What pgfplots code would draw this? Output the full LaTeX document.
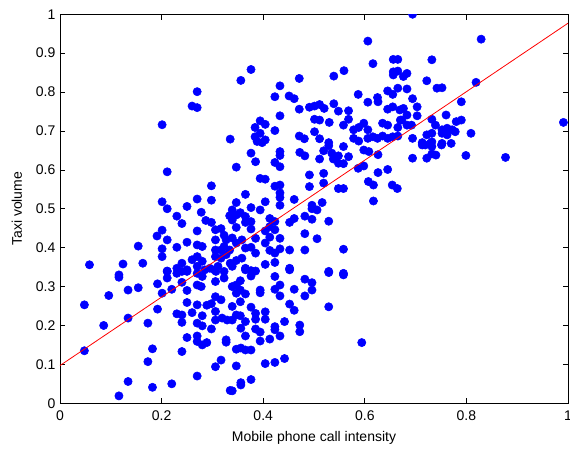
\documentclass[border=0pt]{standalone}
\usepackage{fontspec}
\setmainfont{Liberation Sans}
\usepackage{pgfplots}
\pgfplotsset{compat=1.18}
\begin{document}
\begin{tikzpicture}
\begin{axis}[
  scale only axis,
  width=381pt, height=291.75pt,
  xmin=0, xmax=1, ymin=0, ymax=1,
  xtick={0,0.2,0.4,0.6,0.8,1},
  ytick={0,0.1,0.2,0.3,0.4,0.5,0.6,0.7,0.8,0.9,1},
  tick align=inside,
  major tick length=4pt,
  axis line style={line width=0.7pt, black},
  every tick/.style={black, line width=0.5pt},
  /pgf/number format/assume math mode=true,
  ticklabel style={font=\fontsize{10.5}{12}\selectfont},
  xticklabel style={yshift=-2pt},
  label style={font=\fontsize{10.5}{12}\selectfont},
  xlabel={Mobile phone call intensity},
  ylabel={Taxi volume},
  xlabel style={at={(axis description cs:0.5,-0.088)},anchor=center},
  ylabel style={at={(axis description cs:-0.085,0.5)},anchor=center},
  clip marker paths=true,
]
\coordinate (sw) at (rel axis cs:0,0);
\coordinate (ne) at (rel axis cs:1,1);
\addplot[only marks, mark=*, mark size=3.1pt, color=blue, mark options={fill=blue, draw=blue}] table {
x y
0.270 0.801
0.260 0.764
0.270 0.760
0.201 0.716
0.335 0.679
0.606 0.931
0.616 0.873
0.376 0.858
0.356 0.830
0.471 0.835
0.539 0.841
0.559 0.855
0.656 0.884
0.665 0.884
0.656 0.852
0.665 0.854
0.656 0.844
0.665 0.810
0.645 0.803
0.655 0.794
0.433 0.816
0.423 0.788
0.451 0.790
0.461 0.783
0.471 0.756
0.491 0.761
0.501 0.764
0.511 0.768
0.520 0.758
0.539 0.770
0.548 0.751
0.568 0.752
0.587 0.794
0.606 0.774
0.625 0.786
0.626 0.775
0.645 0.756
0.655 0.762
0.669 0.754
0.433 0.739
0.394 0.726
0.404 0.717
0.384 0.709
0.501 0.730
0.511 0.728
0.530 0.722
0.568 0.730
0.558 0.715
0.501 0.698
0.598 0.720
0.588 0.709
0.578 0.703
0.635 0.720
0.645 0.715
0.665 0.709
0.670 0.728
0.384 0.685
0.394 0.694
0.404 0.677
0.423 0.701
0.471 0.687
0.481 0.680
0.511 0.680
0.606 0.703
0.606 0.681
0.616 0.685
0.625 0.681
0.635 0.687
0.645 0.681
0.655 0.685
0.665 0.687
0.578 0.681
0.588 0.674
0.529 0.670
0.694 1.000
0.829 0.936
0.732 0.883
0.683 0.848
0.676 0.840
0.722 0.829
0.819 0.825
0.683 0.808
0.742 0.810
0.752 0.811
0.694 0.783
0.790 0.775
0.703 0.762
0.703 0.739
0.676 0.758
0.683 0.741
0.673 0.728
0.732 0.730
0.760 0.741
0.780 0.724
0.790 0.728
0.683 0.715
0.692 0.715
0.739 0.715
0.722 0.690
0.732 0.694
0.752 0.703
0.762 0.707
0.772 0.703
0.752 0.694
0.762 0.690
0.778 0.698
0.809 0.694
0.694 0.681
0.713 0.670
0.732 0.672
0.752 0.668
0.770 0.668
0.991 0.722
0.719 0.664
0.729 0.668
0.732 0.660
0.713 0.664
0.751 0.664
0.732 0.641
0.740 0.638
0.694 0.630
0.722 0.630
0.799 0.637
0.877 0.632
0.211 0.595
0.298 0.559
0.270 0.525
0.298 0.522
0.201 0.518
0.211 0.500
0.250 0.506
0.278 0.491
0.230 0.481
0.240 0.462
0.287 0.470
0.298 0.465
0.334 0.482
0.201 0.445
0.191 0.430
0.270 0.443
0.306 0.446
0.317 0.449
0.211 0.420
0.201 0.397
0.201 0.377
0.230 0.401
0.250 0.414
0.270 0.407
0.280 0.403
0.306 0.420
0.323 0.432
0.327 0.420
0.154 0.404
0.058 0.356
0.124 0.358
0.163 0.360
0.116 0.330
0.306 0.394
0.317 0.394
0.323 0.403
0.334 0.394
0.306 0.377
0.317 0.373
0.327 0.382
0.335 0.360
0.270 0.377
0.260 0.369
0.280 0.365
0.211 0.340
0.230 0.347
0.240 0.360
0.250 0.343
0.270 0.352
0.285 0.343
0.295 0.347
0.304 0.343
0.311 0.352
0.323 0.339
0.388 0.673
0.398 0.670
0.376 0.643
0.385 0.621
0.347 0.607
0.433 0.647
0.433 0.637
0.423 0.619
0.433 0.608
0.472 0.645
0.482 0.636
0.511 0.628
0.519 0.649
0.529 0.662
0.535 0.643
0.538 0.628
0.548 0.617
0.558 0.616
0.548 0.636
0.568 0.634
0.558 0.660
0.598 0.651
0.608 0.647
0.587 0.604
0.598 0.610
0.626 0.639
0.626 0.593
0.645 0.601
0.491 0.587
0.519 0.591
0.491 0.557
0.519 0.566
0.394 0.578
0.404 0.576
0.423 0.558
0.433 0.561
0.433 0.541
0.433 0.529
0.433 0.509
0.365 0.537
0.347 0.516
0.404 0.518
0.376 0.503
0.394 0.497
0.461 0.524
0.548 0.552
0.558 0.552
0.607 0.570
0.617 0.561
0.654 0.561
0.664 0.552
0.617 0.520
0.496 0.509
0.496 0.500
0.506 0.497
0.516 0.516
0.339 0.497
0.347 0.484
0.355 0.490
0.365 0.480
0.376 0.467
0.365 0.465
0.339 0.471
0.347 0.452
0.413 0.475
0.423 0.467
0.452 0.465
0.461 0.475
0.482 0.481
0.496 0.473
0.529 0.468
0.376 0.448
0.385 0.424
0.404 0.443
0.413 0.454
0.423 0.446
0.404 0.412
0.413 0.427
0.433 0.424
0.339 0.425
0.347 0.412
0.358 0.420
0.482 0.436
0.506 0.423
0.365 0.399
0.376 0.401
0.413 0.393
0.423 0.386
0.433 0.397
0.452 0.394
0.482 0.394
0.558 0.396
0.347 0.367
0.358 0.373
0.385 0.386
0.404 0.357
0.423 0.362
0.365 0.347
0.376 0.341
0.452 0.347
0.529 0.339
0.558 0.334
0.339 0.352
0.365 0.343
0.385 0.340
0.423 0.326
0.376 0.327
0.355 0.315
0.347 0.304
0.339 0.300
0.452 0.343
0.482 0.319
0.496 0.310
0.496 0.291
0.529 0.336
0.558 0.330
0.433 0.304
0.423 0.293
0.461 0.293
0.394 0.291
0.394 0.284
0.347 0.283
0.365 0.281
0.355 0.291
0.482 0.276
0.433 0.276
0.339 0.249
0.355 0.261
0.376 0.247
0.452 0.255
0.461 0.239
0.529 0.248
0.347 0.227
0.355 0.225
0.385 0.231
0.385 0.216
0.404 0.235
0.404 0.216
0.365 0.210
0.442 0.210
0.472 0.201
0.472 0.184
0.423 0.197
0.423 0.189
0.356 0.193
0.385 0.191
0.394 0.183
0.365 0.173
0.433 0.173
0.413 0.165
0.394 0.160
0.594 0.156
0.347 0.139
0.356 0.142
0.365 0.137
0.376 0.137
0.442 0.115
0.404 0.102
0.423 0.105
0.347 0.096
0.376 0.061
0.356 0.053
0.356 0.047
0.339 0.032
0.116 0.324
0.096 0.277
0.048 0.253
0.134 0.291
0.154 0.297
0.192 0.307
0.201 0.283
0.220 0.293
0.211 0.339
0.211 0.322
0.230 0.334
0.240 0.339
0.250 0.339
0.240 0.311
0.250 0.290
0.270 0.334
0.270 0.304
0.278 0.300
0.280 0.326
0.307 0.339
0.306 0.313
0.323 0.322
0.192 0.242
0.086 0.200
0.134 0.219
0.173 0.206
0.230 0.230
0.240 0.227
0.240 0.208
0.250 0.259
0.260 0.233
0.270 0.253
0.289 0.252
0.298 0.256
0.280 0.225
0.270 0.206
0.280 0.199
0.306 0.236
0.306 0.214
0.319 0.219
0.329 0.214
0.339 0.214
0.306 0.274
0.317 0.266
0.298 0.191
0.250 0.169
0.270 0.173
0.270 0.159
0.280 0.150
0.289 0.156
0.327 0.163
0.327 0.157
0.048 0.135
0.182 0.140
0.240 0.133
0.173 0.107
0.317 0.111
0.306 0.094
0.270 0.070
0.134 0.056
0.182 0.041
0.220 0.050
0.116 0.019
0.335 0.033
};
\addplot[red, line width=0.6pt] coordinates {(0,0.097) (1,0.977)};
\end{axis}
\pgfresetboundingbox
\path[use as bounding box] ([shift={(-45pt,-35pt)}]sw) rectangle ([shift={(1.5pt,10.7pt)}]ne);
\end{tikzpicture}
\end{document}
